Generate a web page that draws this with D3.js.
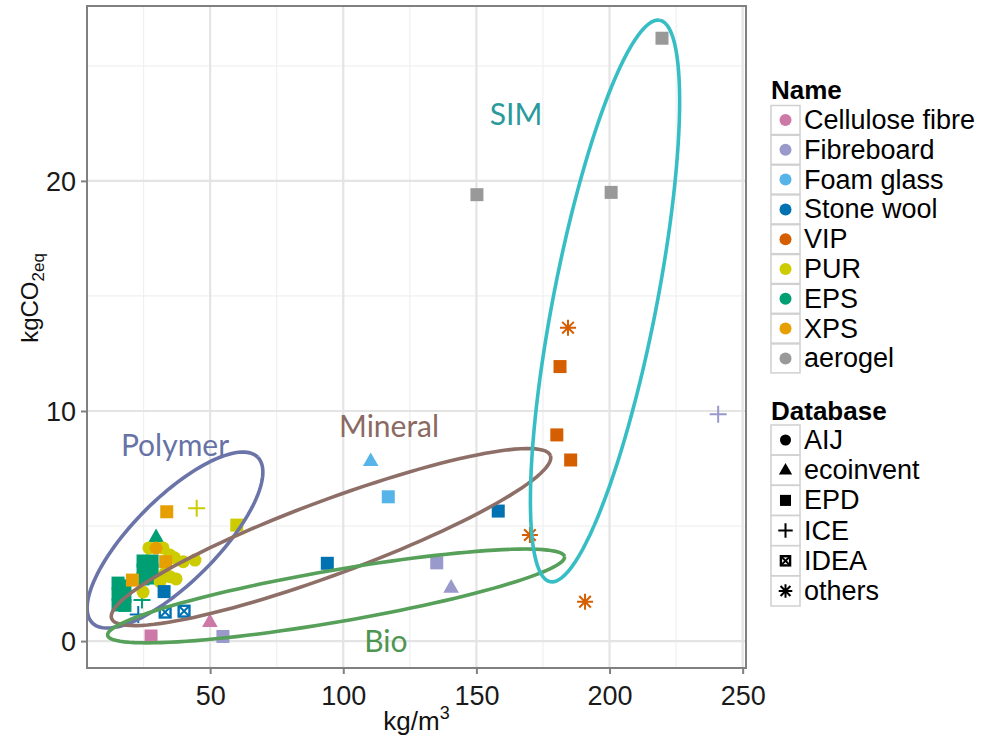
<!DOCTYPE html>
<html>
<head>
<meta charset="utf-8">
<script src="https://cdn.jsdelivr.net/npm/d3@7"></script>
<style>
  body { margin: 0; background: #fff; }
  text { font-family: "Liberation Sans", Arial, sans-serif; }
</style>
</head>
<body>
<div id="chart"></div>
<script>
// material names and their colours (legend "Name")
var names = ["Cellulose fibre", "Fibreboard", "Foam glass", "Stone wool", "VIP", "PUR", "EPS", "XPS", "aerogel"];
var nameColors = ["#cc79a7", "#9999cc", "#56b4e9", "#0072b2", "#d55e00", "#cccc00", "#009e73", "#e69f00", "#999999"];
var databases = ["AIJ", "ecoinvent", "EPD", "ICE", "IDEA", "others"];

// [density kg/m3, kgCO2eq, database]
var celluloseFibre = [[27.8, 0.22, "EPD"], [49.9, 0.84, "ecoinvent"]];
var fibreboard = [[54.8, 0.2, "EPD"], [135.1, 3.40, "EPD"], [140.5, 2.33, "ecoinvent"], [240.8, 9.86, "ICE"]];
var foamGlass = [[110.3, 7.83, "ecoinvent"], [116.9, 6.27, "EPD"]];
var stoneWool = [[158.2, 5.65, "EPD"], [94.0, 3.38, "EPD"], [32.7, 2.15, "EPD"], [40.2, 1.30, "IDEA"],
                 [33.1, 1.26, "IDEA"], [23.0, 1.15, "ICE"]];
var vip = [[184.4, 13.62, "others"], [181.4, 11.93, "EPD"], [180.2, 8.96, "EPD"], [185.4, 7.87, "EPD"],
           [170.1, 4.61, "others"], [190.8, 1.71, "others"]];
var pur = [[44.95, 5.77, "ICE"], [60.0, 5.04, "EPD"], [27.0, 4.05, "AIJ"], [32.3, 4.05, "AIJ"],
           [34.9, 3.74, "AIJ"], [36.6, 3.62, "AIJ"], [39.9, 3.45, "AIJ"], [44.3, 3.52, "AIJ"],
           [33.0, 2.94, "AIJ"], [34.9, 2.80, "AIJ"], [31.2, 2.58, "AIJ"], [37.2, 2.70, "AIJ"], [24.8, 2.13, "AIJ"]];
var eps = [[29.7, 4.52, "ecoinvent"], [24.8, 3.48, "EPD"], [28.2, 3.48, "EPD"], [24.8, 3.09, "EPD"],
           [28.2, 3.09, "EPD"], [24.8, 2.70, "EPD"], [28.2, 2.74, "EPD"], [15.4, 2.52, "EPD"],
           [18.0, 2.40, "EPD"], [15.4, 2.04, "EPD"], [18.0, 1.95, "EPD"], [15.4, 1.57, "EPD"],
           [18.0, 1.55, "EPD"], [24.4, 1.78, "ICE"]];
var xps = [[33.7, 5.62, "EPD"], [29.7, 4.04, "AIJ"], [33.3, 3.45, "EPD"], [20.8, 2.65, "EPD"]];
var aerogel = [[219.7, 26.2, "EPD"], [150.2, 19.4, "EPD"], [200.6, 19.5, "EPD"]];

// drawing order (later on top)
var series = [
  {name: "EPS", rows: eps}, {name: "PUR", rows: pur}, {name: "XPS", rows: xps},
  {name: "Stone wool", rows: stoneWool}, {name: "Cellulose fibre", rows: celluloseFibre},
  {name: "Fibreboard", rows: fibreboard}, {name: "Foam glass", rows: foamGlass},
  {name: "VIP", rows: vip}, {name: "aerogel", rows: aerogel}
];

// group ellipses: centre and two conjugate semi-axes, all in data units
var groups = ["Polymer", "Mineral", "Bio", "SIM"];
var groupColors = ["#6b74a8", "#8e6f68", "#56a05a", "#36bec4"];
var groupTextColors = ["#6772a6", "#8a6a62", "#4c9650", "#2a9a9c"];
var ellipseCentre = [[36.8, 4.39], [95.4, 4.52], [97.3, 1.96], [198.3, 14.78]];
var ellipseAxisA = [[31.06, 3.6], [82.4, 3.54], [85.8, 1.71], [20.6, 12.2]];
var ellipseAxisB = [[11.15, -1.29], [4.84, -1.51], [1.66, -1.11], [19.0, -0.43]];
var groupLabelAt = [[36.8, 8.57], [117.2, 9.39], [116.0, 0.04], [164.9, 22.96]];

var xTicks = [50, 100, 150, 200, 250];
var xMinor = [25, 75, 125, 175, 225];
var yTicks = [0, 10, 20];
var yMinor = [5, 15, 25];

var width = 981, height = 745;
var pLeft = 87, pRight = 746, pTop = 6, pBottom = 668;

var x = d3.scaleLinear().domain([3.75, 251.25]).range([pLeft, pRight]);
var y = d3.scaleLinear().domain([-1.17, 27.6]).range([pBottom, pTop]);
var color = d3.scaleOrdinal().domain(names).range(nameColors);

var svg = d3.select("#chart").append("svg")
  .attr("width", width)
  .attr("height", height);

// clip for the panel
svg.append("clipPath").attr("id", "panel")
  .append("rect").attr("x", pLeft).attr("y", pTop).attr("width", pRight - pLeft).attr("height", pBottom - pTop);

var grid = svg.append("g");
grid.selectAll(".xmin").data(xMinor).enter().append("line")
  .attr("x1", d => x(d)).attr("x2", d => x(d)).attr("y1", pTop).attr("y2", pBottom)
  .attr("stroke", "#f0f0f0").attr("stroke-width", 1.2);
grid.selectAll(".ymin").data(yMinor).enter().append("line")
  .attr("y1", d => y(d)).attr("y2", d => y(d)).attr("x1", pLeft).attr("x2", pRight)
  .attr("stroke", "#f0f0f0").attr("stroke-width", 1.2);
grid.selectAll(".xmaj").data(xTicks).enter().append("line")
  .attr("x1", d => x(d)).attr("x2", d => x(d)).attr("y1", pTop).attr("y2", pBottom)
  .attr("stroke", "#e4e4e4").attr("stroke-width", 2.2);
grid.selectAll(".ymaj").data(yTicks).enter().append("line")
  .attr("y1", d => y(d)).attr("y2", d => y(d)).attr("x1", pLeft).attr("x2", pRight)
  .attr("stroke", "#e4e4e4").attr("stroke-width", 2.2);

// marker drawing by database
function drawShape(g, db, c, s) {
  s = s || 1;
  if (db == "AIJ") {
    g.append("circle").attr("r", 6.5 * s).attr("fill", c);
  } else if (db == "ecoinvent") {
    g.append("path").attr("d", "M0," + (-8.5 * s) + "L" + (7.8 * s) + "," + (5.2 * s) + "L" + (-7.8 * s) + "," + (5.2 * s) + "Z").attr("fill", c);
  } else if (db == "EPD") {
    g.append("rect").attr("x", -6.5 * s).attr("y", -6.5 * s).attr("width", 13 * s).attr("height", 13 * s).attr("fill", c);
  } else if (db == "ICE") {
    var a = 8.5 * s;
    g.append("path").attr("d", "M" + (-a) + ",0H" + a + "M0," + (-a) + "V" + a)
      .attr("stroke", c).attr("stroke-width", 2).attr("fill", "none");
  } else if (db == "IDEA") {
    var b = 5.4 * s;
    g.append("rect").attr("x", -b).attr("y", -b).attr("width", 2 * b).attr("height", 2 * b)
      .attr("fill", "none").attr("stroke", c).attr("stroke-width", 2.4);
    g.append("path").attr("d", "M" + (-b) + "," + (-b) + "L" + b + "," + b + "M" + b + "," + (-b) + "L" + (-b) + "," + b)
      .attr("stroke", c).attr("stroke-width", 2);
  } else {
    var r = 8 * s, q = 5.8 * s;
    g.append("path").attr("d", "M" + (-r) + ",0H" + r + "M0," + (-r) + "V" + r +
        "M" + (-q) + "," + (-q) + "L" + q + "," + q + "M" + q + "," + (-q) + "L" + (-q) + "," + q)
      .attr("stroke", c).attr("stroke-width", 2).attr("fill", "none");
  }
}

var pts = svg.append("g").attr("clip-path", "url(#panel)");
series.forEach(function(sr) {
  sr.rows.forEach(function(r) {
    var g = pts.append("g").attr("transform", "translate(" + x(r[0]) + "," + y(r[1]) + ")");
    drawShape(g, r[2], color(sr.name));
  });
});

// ellipses
var steps = d3.range(0, 121).map(i => i / 120 * 2 * Math.PI);
var line = d3.line().x(d => x(d[0])).y(d => y(d[1]));
var ell = svg.append("g").attr("clip-path", "url(#panel)");
groups.forEach(function(gname, i) {
  var c = ellipseCentre[i], a = ellipseAxisA[i], b = ellipseAxisB[i];
  var path = steps.map(t => [c[0] + Math.cos(t) * a[0] + Math.sin(t) * b[0],
                             c[1] + Math.cos(t) * a[1] + Math.sin(t) * b[1]]);
  ell.append("path").attr("d", line(path))
    .attr("fill", "none").attr("stroke", groupColors[i]).attr("stroke-width", 3.6);
  ell.append("text")
    .attr("x", x(groupLabelAt[i][0])).attr("y", y(groupLabelAt[i][1]))
    .attr("text-anchor", "middle").attr("dominant-baseline", "central")
    .style("font-family", "Lato, 'Open Sans', sans-serif")
    .style("font-size", "30px")
    .attr("fill", groupTextColors[i])
    .text(gname);
});

// panel border
svg.append("rect").attr("x", pLeft).attr("y", pTop).attr("width", pRight - pLeft).attr("height", pBottom - pTop)
  .attr("fill", "none").attr("stroke", "#808080").attr("stroke-width", 2);

// axes
var xAxis = svg.append("g").attr("transform", "translate(0," + pBottom + ")")
  .call(d3.axisBottom(x).tickValues(xTicks).tickSize(6).tickPadding(5));
var yAxis = svg.append("g").attr("transform", "translate(" + pLeft + ",0)")
  .call(d3.axisLeft(y).tickValues(yTicks).tickSize(6).tickPadding(5));
[xAxis, yAxis].forEach(function(ax) {
  ax.select(".domain").remove();
  ax.selectAll(".tick line").attr("stroke", "#808080").attr("stroke-width", 2);
  ax.selectAll(".tick text").attr("fill", "#1a1a1a").style("font-size", "27px")
    .style("font-family", "'Liberation Sans', Arial, sans-serif");
});
xAxis.selectAll(".tick text").attr("dy", "0.95em");
yAxis.selectAll(".tick text").attr("dy", "0.36em");

// axis titles
var xt = svg.append("text").attr("x", (pLeft + pRight) / 2).attr("y", 730)
  .attr("text-anchor", "middle").style("font-size", "26px").attr("fill", "#111");
xt.append("tspan").text("kg/m");
xt.append("tspan").attr("dy", -11).style("font-size", "18px").text("3");

var yt = svg.append("text").attr("transform", "translate(38,298) rotate(-90)")
  .attr("text-anchor", "middle").style("font-size", "24px").attr("fill", "#111");
yt.append("tspan").text("kgCO");
yt.append("tspan").attr("dy", 6).style("font-size", "17px").text("2eq");

// legend
var lg = svg.append("g");
lg.append("text").attr("x", 771).attr("y", 90).attr("dominant-baseline", "central")
  .style("font-size", "26px").style("font-weight", "bold").attr("fill", "#000").text("Name");
names.forEach(function(n, i) {
  var cy = 120 + i * 29.8;
  lg.append("rect").attr("x", 771).attr("y", cy - 14.5).attr("width", 29).attr("height", 29)
    .attr("fill", "#fff").attr("stroke", "#d0d0d0").attr("stroke-width", 1.5);
  lg.append("circle").attr("cx", 785.5).attr("cy", cy).attr("r", 6).attr("fill", nameColors[i]);
  lg.append("text").attr("x", 804).attr("y", cy).attr("dominant-baseline", "central")
    .style("font-size", "27px").attr("fill", "#000").text(n);
});
lg.append("text").attr("x", 771).attr("y", 411).attr("dominant-baseline", "central")
  .style("font-size", "26px").style("font-weight", "bold").attr("fill", "#000").text("Database");
databases.forEach(function(n, i) {
  var cy = 440 + i * 30.2;
  lg.append("rect").attr("x", 771).attr("y", cy - 15).attr("width", 29).attr("height", 30)
    .attr("fill", "#fff").attr("stroke", "#d0d0d0").attr("stroke-width", 1.5);
  var g = lg.append("g").attr("transform", "translate(785.5," + cy + ")");
  drawShape(g, n, "#000", 0.85);
  lg.append("text").attr("x", 804).attr("y", cy).attr("dominant-baseline", "central")
    .style("font-size", "27px").attr("fill", "#000").text(n);
});
</script>
</body>
</html>
